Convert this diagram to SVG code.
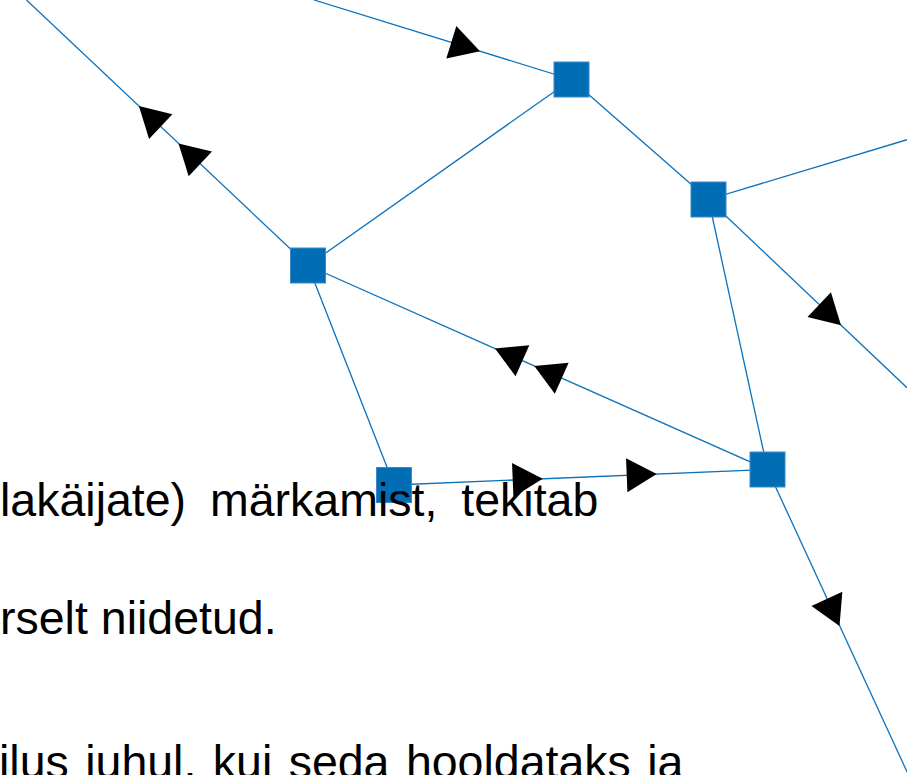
<svg xmlns="http://www.w3.org/2000/svg" xmlns:xlink="http://www.w3.org/1999/xlink" width="907" height="775" viewBox="0 0 907 775">
  <style>
    .edge { stroke: #0B72BC; stroke-width: 1.3; fill: none; }
    .node { fill: #006DB5; stroke: #3A8ACB; stroke-width: 1; }
    .arrow { fill: #000000; }
    .txt { font-family: "Liberation Sans", Arial, sans-serif; font-size: 46.5px; fill: #000000; }
  </style>
  <defs>
    <path id="arr" class="arrow" d="M0,0 L-30,-17 L-30,17 Z"/>
  </defs>
  <rect width="907" height="775" fill="#ffffff"/>
  <g id="connectors">
    <line class="edge" x1="308" y1="265.5" x2="26.5" y2="0"/>
    <line class="edge" x1="314" y1="0" x2="571.5" y2="79.5"/>
    <line class="edge" x1="308" y1="265.5" x2="571.5" y2="79.5"/>
    <line class="edge" x1="571.5" y1="79.5" x2="708.5" y2="199.5"/>
    <line class="edge" x1="708.5" y1="199.5" x2="907" y2="139.7"/>
    <line class="edge" x1="708.5" y1="199.5" x2="907" y2="387.7"/>
    <line class="edge" x1="708.5" y1="199.5" x2="767.5" y2="469.5"/>
    <line class="edge" x1="767.5" y1="469.5" x2="308" y2="265.5"/>
    <line class="edge" x1="308" y1="265.5" x2="394" y2="485"/>
    <line class="edge" x1="394" y1="485" x2="767.5" y2="469.5"/>
    <line class="edge" x1="767.5" y1="469.5" x2="908.5" y2="775"/>
    <use xlink:href="#arr" href="#arr" transform="translate(138.9,106) rotate(-136.67)"/>
    <use xlink:href="#arr" href="#arr" transform="translate(178.5,143.4) rotate(-136.67)"/>
    <use xlink:href="#arr" href="#arr" transform="translate(480,51.2) rotate(17.12)"/>
    <use xlink:href="#arr" href="#arr" transform="translate(841,325.2) rotate(43.46)"/>
    <use xlink:href="#arr" href="#arr" transform="translate(495,348.5) rotate(-156.06)"/>
    <use xlink:href="#arr" href="#arr" transform="translate(534.3,366) rotate(-156.06)"/>
    <use xlink:href="#arr" href="#arr" transform="translate(542.7,478.8) rotate(-2.38)"/>
    <use xlink:href="#arr" href="#arr" transform="translate(656.7,474.1) rotate(-2.38)"/>
    <use xlink:href="#arr" href="#arr" transform="translate(839.5,626) rotate(65.22)"/>
  </g>
  <g id="node-a"><rect class="node" x="290.5" y="248" width="35" height="35"/></g>
  <g id="node-b"><rect class="node" x="554" y="62" width="35" height="35"/></g>
  <g id="node-c"><rect class="node" x="691" y="182" width="35" height="35"/></g>
  <g id="node-d"><rect class="node" x="750" y="452" width="35" height="35"/></g>
  <g id="node-e"><rect class="node" x="376.5" y="467.5" width="35" height="35"/></g>
  <g id="text">
    <text class="txt" x="0" y="516" word-spacing="11">lakäijate) märkamist, tekitab</text>
    <text class="txt" x="0" y="634">rselt niidetud.</text>
    <text class="txt" x="-1" y="778" word-spacing="3.5">ilus juhul, kui seda hooldataks ja</text>
  </g>
</svg>
